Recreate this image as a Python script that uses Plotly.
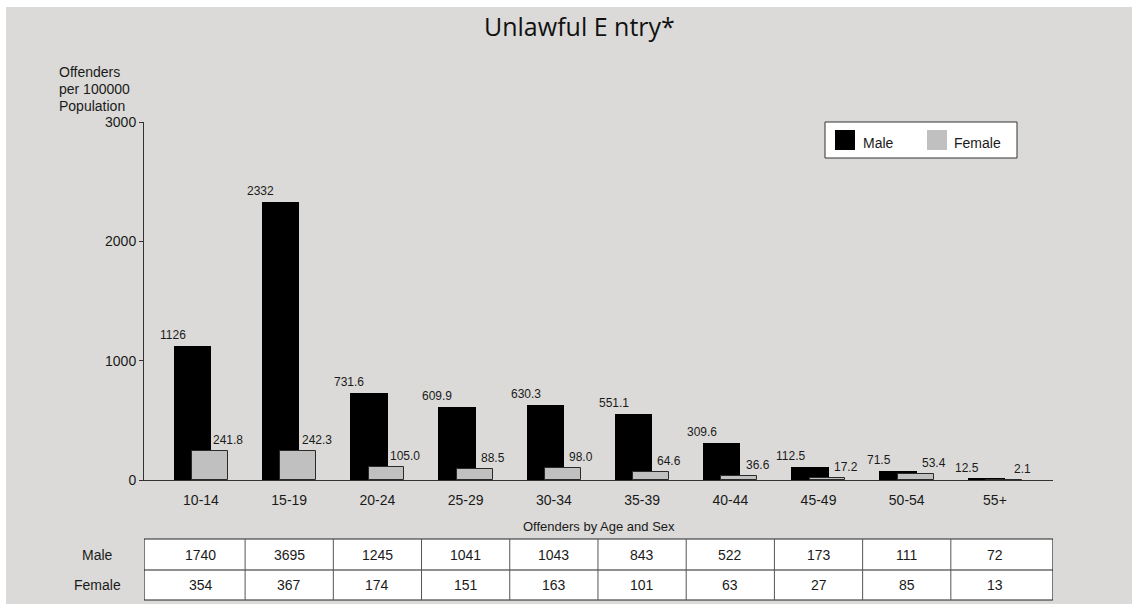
import plotly.graph_objects as go

# ---------------- data ----------------
age_groups = ["10-14", "15-19", "20-24", "25-29", "30-34", "35-39", "40-44", "45-49", "50-54", "55+"]
male_rate = [1126, 2332, 731.6, 609.9, 630.3, 551.1, 309.6, 112.5, 71.5, 12.5]
female_rate = [241.8, 242.3, 105.0, 88.5, 98.0, 64.6, 36.6, 17.2, 53.4, 2.1]
male_count = [1740, 3695, 1245, 1041, 1043, 843, 522, 173, 111, 72]
female_count = [354, 367, 174, 151, 163, 101, 63, 27, 85, 13]
y_ticks = [0, 1000, 2000, 3000]

title_text = "Unlawful E ntry*"
y_title_lines = ["Offenders", "per 100000", "Population"]
table_title = "Offenders by Age and Sex"

# ---------------- layout constants ----------------
W, H = 1138, 610
L, R, T, B = 144, 85, 122, 130
PW, PH = W - L - R, H - T - B
BG = "#DBDAD8"
FONT = "Liberation Sans, Arial, Helvetica, sans-serif"
XMIN, XMAX = -0.646, 9.658
TXT = "#1a1a1a"


def px(p):
    return (p - L) / PW


def py(p):
    return (H - B - p) / PH


def fmt(v):
    return f"{v:.0f}" if v >= 1000 else f"{v:.1f}"


xs = list(range(len(age_groups)))

fig = go.Figure()
fig.add_trace(go.Bar(
    x=xs, y=male_rate, name="Male", offset=-0.31, width=0.425,
    marker=dict(color="#000000", line=dict(width=0)), showlegend=False,
))
fig.add_trace(go.Bar(
    x=xs, y=female_rate, name="Female", offset=-0.10, width=0.405,
    marker=dict(color="#C0C0C0", line=dict(color="#2a2a2a", width=1)), showlegend=False,
))

ann = []
shapes = []

# value labels
for i, (m, f) in enumerate(zip(male_rate, female_rate)):
    ann.append(dict(x=i - 0.32, y=m, xref="x", yref="y", text=fmt(m), showarrow=False,
                    yanchor="bottom", yshift=2, font=dict(family=FONT, size=12, color=TXT)))
    ann.append(dict(x=i + 0.31, y=f, xref="x", yref="y", text=fmt(f), showarrow=False,
                    yanchor="bottom", yshift=2, font=dict(family=FONT, size=12, color=TXT)))

# background panel
shapes.append(dict(type="rect", xref="paper", yref="paper", x0=px(6), x1=px(1132), y0=py(604), y1=py(7),
                   fillcolor=BG, line=dict(width=0), layer="below"))

# title
ann.append(dict(x=px(579), y=py(26), xref="paper", yref="paper", text=title_text, showarrow=False,
                xanchor="center", yanchor="middle", font=dict(family="Open Sans, sans-serif", size=25, color="#111")))
# y-axis title, one line each
for k, line in enumerate(y_title_lines):
    ann.append(dict(x=px(57), y=py(72 + 17 * k), xref="paper", yref="paper", text=line, showarrow=False,
                    xanchor="left", yanchor="middle", font=dict(family=FONT, size=14, color=TXT)))

# legend (manual)
shapes.append(dict(type="rect", xref="paper", yref="paper", x0=px(825), x1=px(1017), y0=py(158), y1=py(122),
                   fillcolor="white", line=dict(color="#333", width=1)))
shapes.append(dict(type="rect", xref="paper", yref="paper", x0=px(835), x1=px(855), y0=py(150), y1=py(130),
                   fillcolor="#000000", line=dict(width=0)))
shapes.append(dict(type="rect", xref="paper", yref="paper", x0=px(927), x1=px(947), y0=py(150), y1=py(130),
                   fillcolor="#C0C0C0", line=dict(width=0)))
ann.append(dict(x=px(861), y=py(143), xref="paper", yref="paper", text="Male", showarrow=False,
                xanchor="left", yanchor="middle", font=dict(family=FONT, size=14, color=TXT)))
ann.append(dict(x=px(952), y=py(143), xref="paper", yref="paper", text="Female", showarrow=False,
                xanchor="left", yanchor="middle", font=dict(family=FONT, size=14, color=TXT)))

# table
ann.append(dict(x=0.5, y=py(526), xref="paper", yref="paper", text=table_title, showarrow=False,
                xanchor="center", yanchor="middle", font=dict(family=FONT, size=13, color=TXT)))
t_top, t_mid, t_bot = 539, 570, 600
shapes.append(dict(type="rect", xref="x", yref="paper", x0=XMIN, x1=XMAX, y0=py(t_bot), y1=py(t_top),
                   fillcolor="white", line=dict(color="#222", width=1.2)))
shapes.append(dict(type="line", xref="x", yref="paper", x0=XMIN, x1=XMAX, y0=py(t_mid), y1=py(t_mid),
                   line=dict(color="#222", width=1.2)))
for k in range(len(age_groups) - 1):
    shapes.append(dict(type="line", xref="x", yref="paper", x0=k + 0.5, x1=k + 0.5, y0=py(t_bot), y1=py(t_top),
                       line=dict(color="#555", width=1)))
ann.append(dict(x=px(97), y=py((t_top + t_mid) / 2), xref="paper", yref="paper", text="Male", showarrow=False,
                xanchor="center", yanchor="middle", font=dict(family=FONT, size=14, color=TXT)))
ann.append(dict(x=px(97), y=py((t_mid + t_bot) / 2), xref="paper", yref="paper", text="Female", showarrow=False,
                xanchor="center", yanchor="middle", font=dict(family=FONT, size=14, color=TXT)))
for i, (mc, fc) in enumerate(zip(male_count, female_count)):
    ann.append(dict(x=i, y=py((t_top + t_mid) / 2), xref="x", yref="paper", text=str(mc), showarrow=False,
                    xanchor="center", yanchor="middle", font=dict(family=FONT, size=14, color=TXT)))
    ann.append(dict(x=i, y=py((t_mid + t_bot) / 2), xref="x", yref="paper", text=str(fc), showarrow=False,
                    xanchor="center", yanchor="middle", font=dict(family=FONT, size=14, color=TXT)))

fig.update_layout(
    width=W, height=H, autosize=False,
    margin=dict(l=L, r=R, t=T, b=B, pad=0),
    paper_bgcolor="white", plot_bgcolor="rgba(0,0,0,0)",
    barmode="overlay", bargap=0,
    font=dict(family=FONT, size=14, color=TXT),
    annotations=ann, shapes=shapes,
    xaxis=dict(range=[XMIN, XMAX], tickvals=xs, ticktext=age_groups, showgrid=False, zeroline=False,
               showline=True, linecolor="#333", linewidth=1, ticks="", ticklabelstandoff=7,
               tickfont=dict(family=FONT, size=14, color=TXT), fixedrange=True),
    yaxis=dict(range=[0, 3000], tickvals=y_ticks, showgrid=False, zeroline=False,
               showline=True, linecolor="#333", linewidth=1, ticks="outside", ticklen=4, tickcolor="#333",
               tickfont=dict(family=FONT, size=14, color=TXT), fixedrange=True),
)

fig.write_html("out.html", config={"displayModeBar": False},
               post_script="document.body.style.margin='0px';document.body.style.overflow='hidden';")
